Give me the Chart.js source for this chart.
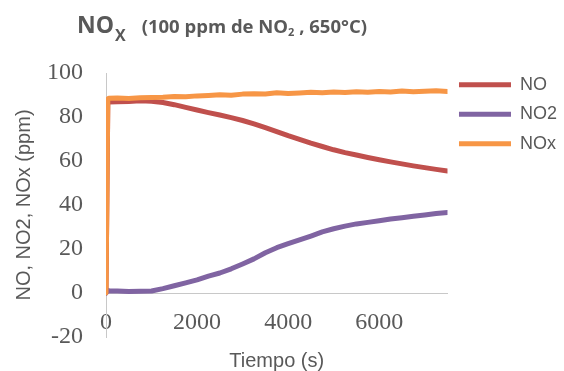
<!DOCTYPE html>
<html>
<head>
<meta charset="utf-8">
<script src="https://cdn.jsdelivr.net/npm/chart.js@4/dist/chart.umd.min.js"></script>
<style>
  html, body { margin: 0; padding: 0; background: #fff; }
  #wrap { position: relative; width: 564px; height: 371px; overflow: hidden; }
  #titulo { position: absolute; left: 77px; top: 8px; font-family: 'Open Sans', sans-serif; font-weight: bold; color: #595959; white-space: nowrap; }
  #titulo .big { font-size: 23px; }
  #titulo .subx { font-size: 16px; position: relative; top: 8px; margin-left: 1px; }
  #titulo .small { font-size: 18.5px; margin-left: 16px; }
  #titulo .small sub { font-size: 11px; vertical-align: -3px; }
</style>
</head>
<body>
<div id="wrap">
  <canvas id="ch"></canvas>
  <div id="titulo"><span class="big">NO</span><span class="subx">X</span><span class="small">(100 ppm de NO<sub>2</sub> , 650°C)</span></div>
</div>
<script>
'use strict';

// tiempo (s)
const tiempo = [0, 40, 60, 250, 500, 750, 1000, 1250, 1500, 1750, 2000, 2250, 2500, 2750, 3000, 3250,
  3500, 3750, 4000, 4250, 4500, 4750, 5000, 5250, 5500, 5750, 6000, 6250, 6500, 6750, 7000, 7250, 7500];

const no = [0, 86.5, 86.8, 86.9, 87.1, 87.4, 87.2, 86.6, 85.6, 84.4, 83.2, 82.0, 80.9, 79.7, 78.4, 76.9,
  75.2, 73.4, 71.5, 69.8, 68.1, 66.6, 65.1, 63.8, 62.7, 61.6, 60.6, 59.6, 58.7, 57.8, 57.0, 56.2, 55.5];

const no2 = [0, 1.2, 1.0, 0.9, 0.7, 0.8, 0.9, 2.0, 3.3, 4.6, 6.0, 7.7, 9.1, 11.0, 13.2, 15.5,
  18.3, 20.6, 22.4, 24.1, 25.9, 27.8, 29.2, 30.4, 31.4, 32.1, 32.8, 33.6, 34.2, 34.9, 35.5, 36.1, 36.6];

const nox = [0, 88.2, 88.5, 88.6, 88.4, 88.8, 88.9, 89.0, 89.3, 89.2, 89.6, 89.8, 90.1, 89.9, 90.4, 90.6,
  90.5, 91.0, 90.7, 90.9, 91.2, 91.0, 91.4, 91.1, 91.5, 91.3, 91.6, 91.4, 91.8, 91.5, 91.7, 91.9, 91.6];

const xTicks = [0, 2000, 4000, 6000];
const yTicks = [-20, 0, 20, 40, 60, 80, 100];

const gris = '#595959';
const ejeColor = '#c8c8c8';
const sans = "'Liberation Sans', Arial, sans-serif";
const serif = "'Liberation Serif', 'Times New Roman', serif";

const pts = arr => arr.map((v, i) => ({ x: tiempo[i], y: v }));

function serie(label, vals, color, order) {
  return {
    label, data: pts(vals), borderColor: color, backgroundColor: color,
    borderWidth: 5, pointRadius: 0, tension: 0, order,
    borderCapStyle: 'round', borderJoinStyle: 'round'
  };
}

new Chart(document.getElementById('ch').getContext('2d'), {
  type: 'line',
  data: {
    datasets: [
      serie('NO', no, '#C0504D', 2),
      serie('NO2', no2, '#8064A2', 1),
      serie('NOx', nox, '#F79646', 0)
    ]
  },
  options: {
    responsive: true, maintainAspectRatio: false, animation: false,
    layout: { padding: { top: 59, left: 12, right: -3, bottom: 0 } },
    plugins: {
      tooltip: { enabled: false },
      legend: {
        position: 'right', align: 'start',
        title: { display: true, text: ' ', font: { size: 1 }, padding: 2 },
        labels: {
          usePointStyle: true, pointStyle: 'line', pointStyleWidth: 52,
          color: gris, font: { family: sans, size: 18 }, padding: 11.5,
          sort: (a, b) => a.datasetIndex - b.datasetIndex
        }
      }
    },
    scales: {
      x: {
        type: 'linear', min: 0, max: 7500, position: { y: 0 },
        afterBuildTicks: s => { s.ticks = xTicks.map(v => ({ value: v })); },
        afterFit: s => { s.height = 0; },
        grid: { display: false, drawTicks: false },
        border: { display: true, color: ejeColor, width: 1 },
        ticks: { color: gris, font: { family: serif, size: 24 }, padding: 15, maxRotation: 0, callback: v => String(v) }
      },
      x2: {
        type: 'linear', min: 0, max: 7500, position: 'bottom',
        grid: { display: false, drawTicks: false }, border: { display: false },
        ticks: { display: false },
        title: { display: true, text: 'Tiempo (s)', color: gris, font: { family: sans, size: 20 }, padding: { top: 12, bottom: -2 } }
      },
      xTop: {
        type: 'linear', min: 0, max: 1, position: 'top',
        grid: { display: false, drawTicks: false }, border: { display: false },
        ticks: { display: false },
        afterFit: s => { s.height = 14; }
      },
      y: {
        min: -20, max: 100,
        afterBuildTicks: s => { s.ticks = yTicks.map(v => ({ value: v })); },
        afterFit: s => { s.width = 94; s.paddingBottom = 10; },
        grid: { display: false, drawTicks: false },
        border: { display: true, color: ejeColor, width: 1 },
        ticks: { color: gris, font: { family: serif, size: 24 }, padding: 23 },
        title: { display: true, text: 'NO, NO2, NOx (ppm)', color: gris, font: { family: sans, size: 20 }, padding: { top: 0, bottom: 10 } }
      }
    }
  }
});
</script>
</body>
</html>
